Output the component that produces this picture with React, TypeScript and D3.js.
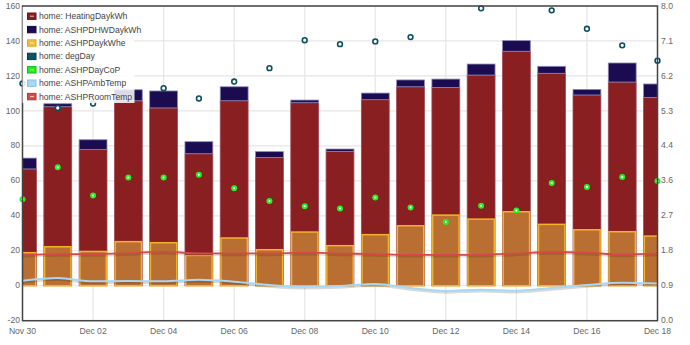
import React from "react";
import * as d3 from "d3";

const dates = ["2023-11-30","2023-12-01","2023-12-02","2023-12-03","2023-12-04","2023-12-05","2023-12-06","2023-12-07","2023-12-08","2023-12-09","2023-12-10","2023-12-11","2023-12-12","2023-12-13","2023-12-14","2023-12-15","2023-12-16","2023-12-17","2023-12-18"];
const heatingDaykWh = [66.8,102.4,78.0,105.8,101.7,75.5,105.8,73.4,104.7,76.8,106.4,113.8,113.4,120.5,134.1,121.5,109.1,116.5,107.7];
const ashpDHWDaykWh = [6.2,1.7,5.5,6.3,9.7,6.9,8.0,3.3,1.5,1.4,3.8,3.9,4.8,6.3,6.1,4.0,3.2,10.9,7.7];
const ashpDaykWhe = [18.9,22.3,19.6,25.2,24.6,17.3,27.3,20.6,30.7,22.9,29.2,34.3,40.4,38.1,42.3,35.1,32.0,30.9,28.4];
const degDay = [6.03,5.41,5.52,5.68,5.91,5.65,6.08,6.42,7.13,7.03,7.10,7.21,8.3,7.94,8.4,7.89,7.42,7.00,6.61];
const ashpDayCoP = [3.09,3.90,3.18,3.64,3.64,3.71,3.37,3.04,2.91,2.85,3.13,2.88,2.51,2.92,2.80,3.50,3.40,3.65,3.55];
const ashpAmbTemp = [2.9,4.4,2.5,2.7,2.5,3.4,2.3,0.4,-0.6,-0.2,1.0,-1.3,-3.0,-2.3,-2.9,-1.3,0.4,1.7,1.3];
const ashpRoomTemp = [17.7,18.1,18.1,18.7,19.5,18.5,18.5,18.5,18.9,18.5,18.1,17.7,17.7,17.7,18.5,19.3,18.9,17.9,18.5];
const leftTicks = [-20,0,20,40,60,80,100,120,140,160];
const rightTicks = [0,1,2,3,4,5,6,7,8,9].map(i => (i * 8) / 9);
const legendItems = [
  { name: "home: HeatingDaykWh", color: "#8a1f22", border: "#6a1216", dash: true },
  { name: "home: ASHPDHWDaykWh", color: "#1b0c52", border: "#14093d", dash: false },
  { name: "home: ASHPDaykWhe", color: "#f0bf3a", border: "#e0a820", dash: true },
  { name: "home: degDay", color: "#0e5563", border: "#083a45", dash: false },
  { name: "home: ASHPDayCoP", color: "#22ee22", border: "#11bb11", dash: true },
  { name: "home: ASHPAmbTemp", color: "#a9d6f5", border: "#8cc0e6", dash: false },
  { name: "home: ASHPRoomTemp", color: "#d44a4a", border: "#b83434", dash: true },
];

const W = 690, H = 345;
const L = 22.5, R = 657.5, T = 6, B = 320.7;

export default function App() {
  const parse = d3.timeParse("%Y-%m-%d");
  const dts = dates.map(d => parse(d) as Date);
  const x = d3.scaleTime().domain([dts[0], dts[dts.length - 1]]).range([L, R]);
  const yL = d3.scaleLinear().domain([-20, 160]).range([B, T]);
  const yR = d3.scaleLinear().domain([0, 8]).range([B, T]);
  const fmt = d3.timeFormat("%b %d");
  const xTicks = dts.filter((_, i) => i % 2 === 0);
  const dayW = x(dts[1]) - x(dts[0]);
  const bw = dayW * 0.79;

  const lineL = d3.line<number>().x((_, i) => x(dts[i])).y(v => yL(v)).curve(d3.curveMonotoneX);
  const ambPath = lineL(ashpAmbTemp) || "";
  const roomPath = lineL(ashpRoomTemp) || "";
  const font = "'Liberation Sans', Arial, sans-serif";
  const fs = 8.6;

  return (
    <svg width={W} height={H} style={{ position: "absolute", left: 0, top: 0, fontFamily: font }}>
      <defs>
        <clipPath id="plot"><rect x={L} y={T} width={R - L} height={B - T} /></clipPath>
        <clipPath id="pts"><rect x={0} y={T - 4} width={W} height={B - T + 8} /></clipPath>
      </defs>
      <rect width={W} height={H} fill="#fff" />
      {leftTicks.map(t => (
        <line key={"h" + t} x1={L} x2={R} y1={yL(t)} y2={yL(t)} stroke="#e6e6e6" strokeWidth={1.2} />
      ))}
      {xTicks.map((d, i) => (
        <line key={"v" + i} x1={x(d)} x2={x(d)} y1={T} y2={B} stroke="#e6e6e6" strokeWidth={1.2} />
      ))}
      <g clipPath="url(#plot)">
        {dts.map((d, i) => {
          const cx = x(d);
          const h = heatingDaykWh[i];
          const t = h + ashpDHWDaykWh[i];
          return (
            <g key={"b" + i}>
              <rect x={cx - bw / 2} y={yL(h)} width={bw} height={yL(0) - yL(h)} fill="#8a1f22" stroke="#a04a58" strokeWidth={0.8} />
              <rect x={cx - bw / 2} y={yL(t)} width={bw} height={yL(h) - yL(t)} fill="#1b0c52" stroke="#8f88b8" strokeWidth={0.8} />
              <rect x={cx - bw / 2 + 0.75} y={yL(ashpDaykWhe[i])} width={bw - 1.5} height={yL(0) - yL(ashpDaykWhe[i])} fill="#b96f31" stroke="#f2b22c" strokeWidth={1.5} />
            </g>
          );
        })}
        <path d={roomPath} fill="none" stroke="rgba(0,0,0,0.12)" strokeWidth={2.5} transform="translate(0,1.5)" />
        <path d={roomPath} fill="none" stroke="#d44a4a" strokeWidth={1.8} />
        <path d={ambPath} fill="none" stroke="rgba(0,0,0,0.15)" strokeWidth={2.5} transform="translate(0,1.5)" />
        <path d={ambPath} fill="none" stroke="#a9d6f5" strokeWidth={2} />
      </g>
      <g clipPath="url(#pts)">
        {dts.map((d, i) => (
          <circle key={"dd" + i} cx={x(d)} cy={yR(degDay[i])} r={2.4} fill="#fff" stroke="#0e4f5e" strokeWidth={1.6} />
        ))}
        {dts.map((d, i) => (
          <g key={"cp" + i}>
            <circle cx={x(d)} cy={yR(ashpDayCoP[i])} r={3} fill="#22f022" />
            <circle cx={x(d)} cy={yR(ashpDayCoP[i])} r={1.1} fill="#ffffff" />
          </g>
        ))}
      </g>
      <rect x={L} y={T} width={R - L} height={B - T} fill="none" stroke="#444" strokeWidth={1.5} />
      {leftTicks.map(t => (
        <text key={"lt" + t} x={20} y={yL(t) + 2.6} textAnchor="end" fontSize={fs} fill="#666">{t}</text>
      ))}
      {rightTicks.map((t, i) => (
        <text key={"rt" + i} x={661} y={yR(t) + 2.6} textAnchor="start" fontSize={fs} fill="#666">{d3.format(".1f")(t)}</text>
      ))}
      {xTicks.map((d, i) => (
        <text key={"xt" + i} x={x(d)} y={333.5} textAnchor="middle" fontSize={fs} fill="#666">{fmt(d)}</text>
      ))}
      <rect x={L} y={7} width={112} height={96} fill="#fff" fillOpacity={0.85} />
      {legendItems.map((it, i) => {
        const cy = 16.2 + i * 13.4;
        return (
          <g key={"lg" + i}>
            <rect x={27.5} y={cy - 3.2} width={8.5} height={6.4} fill={it.color} stroke={it.border} strokeWidth={1} />
            {it.dash && <line x1={30} x2={34} y1={cy} y2={cy} stroke="rgba(255,255,255,0.7)" strokeWidth={1} />}
            <text x={39} y={cy + 3} fontSize={fs} fill="#444">{it.name}</text>
          </g>
        );
      })}
    </svg>
  );
}
